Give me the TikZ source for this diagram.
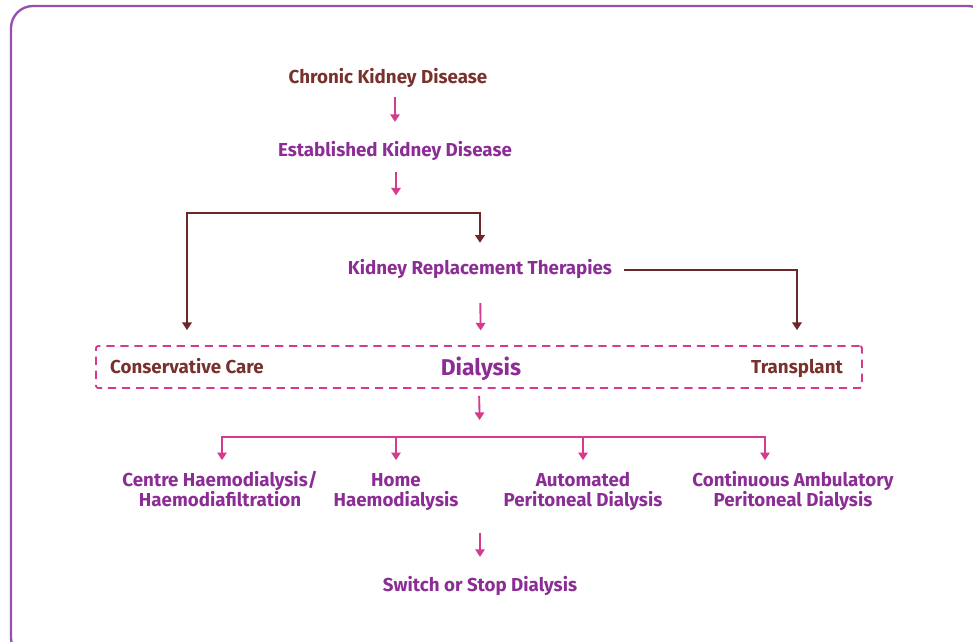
\documentclass[tikz,border=0pt]{standalone}
\usepackage{fontspec}
\setmainfont{Fira Sans}
\usepackage{tikz}
\usetikzlibrary{arrows.meta,calc,positioning}
\definecolor{kdbrown}{RGB}{120,50,45}
\definecolor{kdpurple}{RGB}{140,45,150}
\definecolor{kdpink}{RGB}{214,58,140}
\definecolor{kdarrow}{RGB}{108,40,40}
\definecolor{kdframe}{RGB}{150,80,175}
\begin{document}
\begin{tikzpicture}[x=0.03cm,y=-0.03cm,
      t/.style={inner sep=0pt,align=center,text height=11pt,text depth=3pt,
        font=\bfseries\fontsize{16}{17}\selectfont},
      tb/.style={t,text=kdbrown},
      tp/.style={t,text=kdpurple},
      tp2/.style={tp,text height=28pt},
      pa/.style={draw=kdpink,line width=1.6pt,-{Triangle[length=6.5pt,width=8pt]}},
      ba/.style={draw=kdarrow,line width=1.6pt,-{Triangle[length=6.5pt,width=8pt]}}]
      \useasboundingbox (0,0) rectangle (973,642);
      \clip (0,0) rectangle (973,642);
      \draw[kdframe,line width=2pt,rounded corners=0.66cm] (11,6) rectangle (990,660);
      \node[tb] (ckd) at (388,79) {Chronic Kidney Disease};
      \node[tp] (ekd) at (395,152) {Established Kidney Disease};
      \coordinate (split) at (396,213);
      \node[tp] (krt) at (480,270) {Kidney Replacement Therapies};
      \node[draw=kdpink,dashed,line width=1.6pt,dash pattern=on 7pt off 5pt,
        rounded corners=2pt,minimum width=22.98cm,minimum height=1.26cm] (dbox) at (479,367) {};
      \node[tb] (cons) at (187,369) {Conservative Care};
      \node[tp,text height=13pt,text depth=4pt,
        font=\bfseries\fontsize{19.5}{21}\selectfont] (dia) at (481,370) {Dialysis};
      \node[tb] (trans) at (797,369) {Transplant};
      \coordinate (hub) at (480,437);
      \node[tp2] (chd) at (220,492) {Centre Haemodialysis/\\Haemodiafiltration};
      \node[tp2] (hhd) at (396,492) {Home\\Haemodialysis};
      \node[tp2] (apd) at (583,492) {Automated\\Peritoneal Dialysis};
      \node[tp2] (capd) at (793,492) {Continuous Ambulatory\\Peritoneal Dialysis};
      \node[tp] (sss) at (480,587) {Switch or Stop Dialysis};
      % top of the chain
      \draw[pa,shorten <=8.5pt,shorten >=18.5pt] (ckd.south -| ekd.north) -- (ekd.north);
      \draw[pa,shorten <=10pt,shorten >=15pt] (ekd.south -| split) -- (split);
      \draw[ba,shorten >=26pt] (split) -| (cons.north);
      \draw[ba,shorten >=16pt] (split) -| (krt.north);
      \draw[ba,shorten <=10pt,shorten >=26pt] (krt.east) -| (trans.north);
      \draw[pa,shorten <=21pt,shorten >=25pt] (krt.south) -- (dia.north);
      % dialysis types
      \draw[pa,shorten <=6pt,shorten >=14.5pt] (dbox.south) -- (hub);
      \draw[pa,shorten >=11.5pt] (hub) -| ([xshift=0.06cm]chd.north);
      \draw[pa,shorten >=11.5pt] (hub) -| (hhd.north);
      \draw[pa,shorten >=11.5pt] (hub) -| (apd.north);
      \draw[pa,shorten >=11.5pt] (hub) -| ([xshift=-0.84cm]capd.north);
      \draw[pa,shorten <=19pt,shorten >=18.5pt] (hhd.south -| hub) -- (sss.north);
    \end{tikzpicture}
\end{document}
